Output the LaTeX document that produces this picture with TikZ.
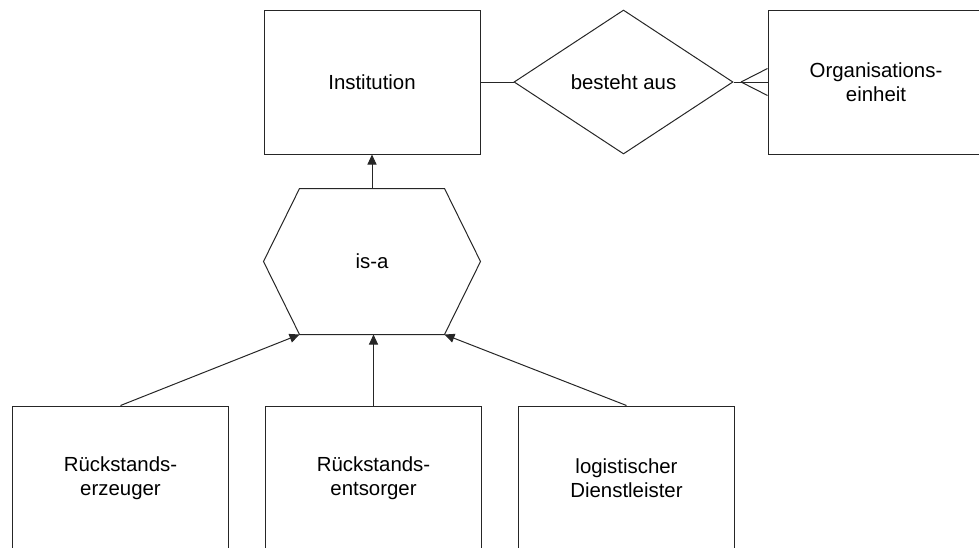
\documentclass[tikz,border=0pt]{standalone}
\usepackage{fontspec}
\setmainfont{Liberation Sans}
\usetikzlibrary{arrows.meta,shapes.geometric,calc}
\begin{document}
\begin{tikzpicture}[x=1pt,y=-1pt,
  line width=1pt, color=black!85,
  lbl/.style={text=black, align=center, inner sep=0pt, font=\fontsize{20.4}{24}\selectfont},
  box/.style={lbl, draw, rectangle, minimum width=216pt, minimum height=144pt},
  rel/.style={lbl, draw, diamond, minimum width=219pt, minimum height=144pt},
  arr/.style={-{Triangle[length=10pt,width=9pt]}}]
\useasboundingbox (0,0) rectangle (979,547);

\node[box] (inst) at (372,82) {Institution};
\node[rel] (besteht) at (623.5,82) {besteht aus};
\node[box] (org) at (876,82) {Organisations-\\einheit};

\node[lbl, minimum width=216pt, minimum height=145pt] (isa) at (372,261.5) {is-a};
\draw ($(isa.north west)+(36,0)$) -- ($(isa.north east)+(-36,0)$) -- (isa.east)
  -- ($(isa.south east)+(-36,0)$) -- ($(isa.south west)+(36,0)$) -- (isa.west) -- cycle;

\node[box, minimum height=145pt] (b1) at (120.5,478.5) {Rückstands-\\erzeuger};
\node[box, minimum height=145pt] (b2) at (373.5,478.5) {Rückstands-\\entsorger};
\node[box, minimum height=145pt] (b3) at (626.5,478.5) {logistischer\\Dienstleister};

\draw (inst.east) -- (besteht.west);
\draw (besteht.east) -- (org.west);
\coordinate (cf) at (741,82);
\draw (cf) -- ([yshift=13.5pt]org.west);
\draw (cf) -- ([yshift=-13.5pt]org.west);

\draw[arr] (isa.north) -- (inst.south);
\draw[arr] (b1.north) -- ($(isa.south west)+(36,0)$);
\draw[arr] (b2.north) -- (b2.north |- isa.south);
\draw[arr] (b3.north) -- ($(isa.south east)+(-36,0)$);
\end{tikzpicture}
\end{document}
